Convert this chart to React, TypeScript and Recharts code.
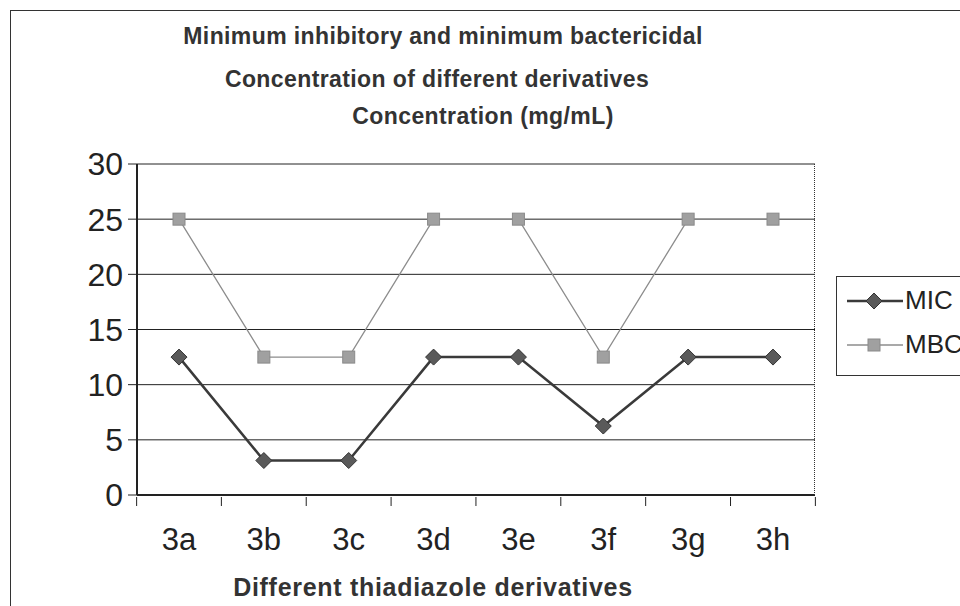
import { LineChart, Line, XAxis, YAxis, CartesianGrid } from 'recharts';

const categories = ['3a', '3b', '3c', '3d', '3e', '3f', '3g', '3h'];
const micValues = [12.5, 3.125, 3.125, 12.5, 12.5, 6.25, 12.5, 12.5];
const mbcValues = [25, 12.5, 12.5, 25, 25, 12.5, 25, 25];
const yTicks = [0, 5, 10, 15, 20, 25, 30];

const chartData = categories.map((name, i) => ({ name, MIC: micValues[i], MBC: mbcValues[i] }));

const FONT = 'Arial, "Liberation Sans", sans-serif';
const BAND = 84.75; // width of one category slot, for excel-like tick marks

function DiamondDot(props: any) {
  const { cx, cy } = props;
  if (cx == null || cy == null) return null;
  const r = 8;
  return (
    <polygon
      points={`${cx},${cy - r} ${cx + r},${cy} ${cx},${cy + r} ${cx - r},${cy}`}
      fill="#5a5a5a"
      stroke="#333"
      strokeWidth={1}
    />
  );
}

function SquareDot(props: any) {
  const { cx, cy } = props;
  if (cx == null || cy == null) return null;
  return <rect x={cx - 6} y={cy - 6} width={12} height={12} fill="#a0a0a0" stroke="#8a8a8a" strokeWidth={1} />;
}

function XTick(props: any) {
  const { x, y, payload, index } = props;
  return (
    <g>
      {index === 0 && <line x1={x - BAND / 2} x2={x - BAND / 2} y1={y} y2={y + 9} stroke="#222" />}
      <line x1={x + BAND / 2} x2={x + BAND / 2} y1={y} y2={y + 9} stroke="#222" />
      <text x={x} y={y + 53} textAnchor="middle" fontSize={31} fontFamily={FONT} fill="#222">
        {payload.value}
      </text>
    </g>
  );
}

const titleStyle: React.CSSProperties = {
  position: 'absolute',
  fontFamily: FONT,
  fontWeight: 'bold',
  fontSize: 23,
  letterSpacing: 0.4,
  color: '#333',
  whiteSpace: 'nowrap',
  transform: 'translateX(-50%)',
};

export default function App() {
  return (
    <div style={{ position: 'absolute', left: 0, top: 0, width: 960, height: 606, background: '#fff', overflow: 'hidden' }}>
      {/* outer frame */}
      <div style={{ position: 'absolute', left: 10, top: 10, width: 960, height: 620, border: '1px solid #333' }} />

      <div style={{ ...titleStyle, left: 443, top: 23 }}>Minimum inhibitory and minimum bactericidal</div>
      <div style={{ ...titleStyle, left: 437, top: 66 }}>Concentration of different derivatives</div>
      <div style={{ ...titleStyle, left: 483, top: 103 }}>Concentration (mg/mL)</div>
      <div style={{ ...titleStyle, left: 433, top: 573, fontSize: 25, letterSpacing: 0.7 }}>
        Different thiadiazole derivatives
      </div>

      <LineChart
        width={960}
        height={606}
        data={chartData}
        margin={{ top: 164, right: 145, left: 77, bottom: 71 }}
        style={{ position: 'absolute', left: 0, top: 0 }}
      >
        <CartesianGrid vertical={false} stroke="#222" strokeWidth={1} />
        <XAxis
          dataKey="name"
          height={40}
          padding={{ left: 42, right: 42 }}
          tickLine={false}
          tickSize={0}
          axisLine={{ stroke: '#222', strokeWidth: 2 }}
          tick={<XTick />}
          interval={0}
        />
        <YAxis
          width={60}
          domain={[0, 30]}
          ticks={yTicks}
          interval={0}
          tickSize={9}
          tickMargin={5}
          axisLine={{ stroke: '#222', strokeWidth: 2 }}
          tickLine={{ stroke: '#222' }}
          tick={{ fontSize: 32, fontFamily: FONT, fill: '#222' }}
        />
        <Line
          type="linear"
          dataKey="MBC"
          stroke="#8c8c8c"
          strokeWidth={1.3}
          dot={<SquareDot />}
          isAnimationActive={false}
        />
        <Line
          type="linear"
          dataKey="MIC"
          stroke="#3a3a3a"
          strokeWidth={2.5}
          dot={<DiamondDot />}
          isAnimationActive={false}
        />
      </LineChart>

      {/* right border of plot area */}
      <div style={{ position: 'absolute', left: 814, top: 164, width: 0, height: 331, borderLeft: '1.5px dotted #333' }} />

      {/* legend */}
      <div
        style={{
          position: 'absolute',
          left: 836,
          top: 276,
          width: 140,
          height: 98,
          border: '1px solid #333',
          fontFamily: FONT,
          fontSize: 26,
          color: '#222',
        }}
      >
        <div style={{ position: 'absolute', left: 8, top: 8, display: 'flex', alignItems: 'center' }}>
          <svg width={60} height={30}>
            <line x1={2} x2={58} y1={15} y2={15} stroke="#3a3a3a" strokeWidth={2.5} />
            <polygon points="29,7 37,15 29,23 21,15" fill="#5a5a5a" stroke="#333" />
          </svg>
          <span>MIC</span>
        </div>
        <div style={{ position: 'absolute', left: 8, top: 52, display: 'flex', alignItems: 'center' }}>
          <svg width={60} height={30}>
            <line x1={2} x2={58} y1={15} y2={15} stroke="#8c8c8c" strokeWidth={1.3} />
            <rect x={23} y={9} width={12} height={12} fill="#a0a0a0" stroke="#8a8a8a" />
          </svg>
          <span>MBC</span>
        </div>
      </div>
    </div>
  );
}
